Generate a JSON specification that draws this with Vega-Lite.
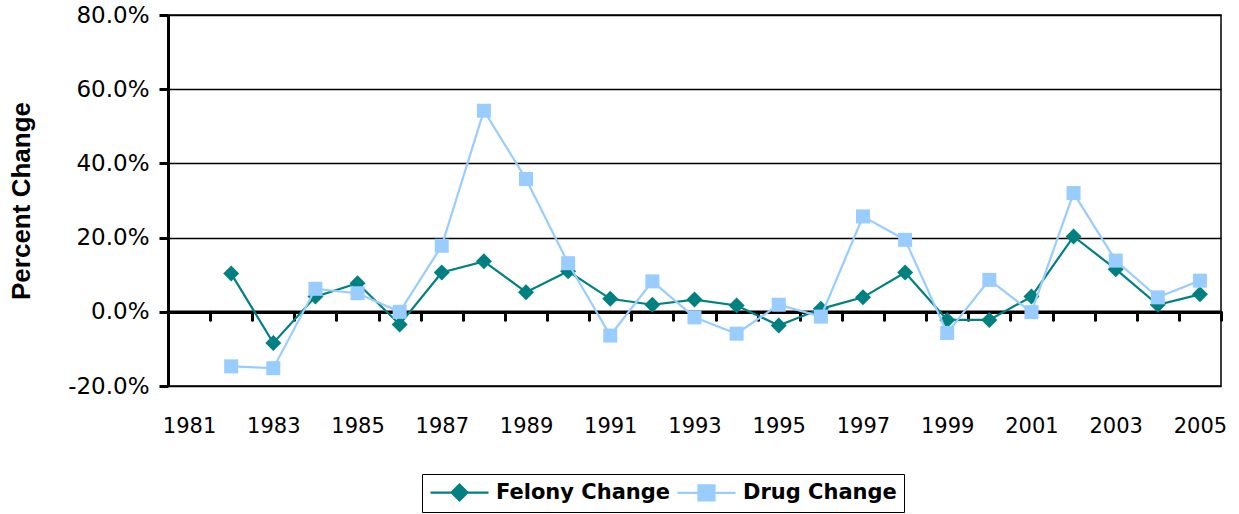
{
  "$schema": "https://vega.github.io/schema/vega-lite/v6.json",
  "width": 1053,
  "height": 371,
  "autosize": {"type": "none"},
  "padding": {"left": 168, "top": 15, "right": 18, "bottom": 128},
  "background": "white",
  "config": {
    "view": {"stroke": "black", "strokeWidth": 1.5}
  },
  "data": {
    "values": [
      {"year": 1982, "series": "Felony Change", "value": 10.3},
      {"year": 1983, "series": "Felony Change", "value": -8.4},
      {"year": 1984, "series": "Felony Change", "value": 4.1},
      {"year": 1985, "series": "Felony Change", "value": 7.7},
      {"year": 1986, "series": "Felony Change", "value": -3.4},
      {"year": 1987, "series": "Felony Change", "value": 10.6},
      {"year": 1988, "series": "Felony Change", "value": 13.6},
      {"year": 1989, "series": "Felony Change", "value": 5.3},
      {"year": 1990, "series": "Felony Change", "value": 10.9},
      {"year": 1991, "series": "Felony Change", "value": 3.5},
      {"year": 1992, "series": "Felony Change", "value": 1.9},
      {"year": 1993, "series": "Felony Change", "value": 3.3},
      {"year": 1994, "series": "Felony Change", "value": 1.7},
      {"year": 1995, "series": "Felony Change", "value": -3.7},
      {"year": 1996, "series": "Felony Change", "value": 0.8},
      {"year": 1997, "series": "Felony Change", "value": 3.9},
      {"year": 1998, "series": "Felony Change", "value": 10.6},
      {"year": 1999, "series": "Felony Change", "value": -2.2},
      {"year": 2000, "series": "Felony Change", "value": -2.2},
      {"year": 2001, "series": "Felony Change", "value": 4.1},
      {"year": 2002, "series": "Felony Change", "value": 20.3},
      {"year": 2003, "series": "Felony Change", "value": 11.5},
      {"year": 2004, "series": "Felony Change", "value": 1.9},
      {"year": 2005, "series": "Felony Change", "value": 4.7},
      {"year": 1982, "series": "Drug Change", "value": -14.7},
      {"year": 1983, "series": "Drug Change", "value": -15.2},
      {"year": 1984, "series": "Drug Change", "value": 6.2},
      {"year": 1985, "series": "Drug Change", "value": 5.0},
      {"year": 1986, "series": "Drug Change", "value": 0.0},
      {"year": 1987, "series": "Drug Change", "value": 17.8},
      {"year": 1988, "series": "Drug Change", "value": 54.2},
      {"year": 1989, "series": "Drug Change", "value": 35.8},
      {"year": 1990, "series": "Drug Change", "value": 13.1},
      {"year": 1991, "series": "Drug Change", "value": -6.4},
      {"year": 1992, "series": "Drug Change", "value": 8.2},
      {"year": 1993, "series": "Drug Change", "value": -1.5},
      {"year": 1994, "series": "Drug Change", "value": -5.9},
      {"year": 1995, "series": "Drug Change", "value": 1.9},
      {"year": 1996, "series": "Drug Change", "value": -1.3},
      {"year": 1997, "series": "Drug Change", "value": 25.7},
      {"year": 1998, "series": "Drug Change", "value": 19.4},
      {"year": 1999, "series": "Drug Change", "value": -5.7},
      {"year": 2000, "series": "Drug Change", "value": 8.6},
      {"year": 2001, "series": "Drug Change", "value": -0.1},
      {"year": 2002, "series": "Drug Change", "value": 32.0},
      {"year": 2003, "series": "Drug Change", "value": 13.8},
      {"year": 2004, "series": "Drug Change", "value": 3.9},
      {"year": 2005, "series": "Drug Change", "value": 8.4}
    ]
  },
  "encoding": {
    "y": {
      "field": "value",
      "type": "quantitative",
      "scale": {"domain": [-20, 80], "nice": false, "zero": false},
      "axis": {
        "title": "Percent Change",
        "values": [-20, 0, 20, 40, 60, 80],
        "labelExpr": "(datum.value < 0 ? '-' : '') + format(abs(datum.value), '.1f') + '%'",
        "grid": true,
        "gridColor": "black",
        "gridWidth": 1.5,
        "gridOpacity": 1,
        "domainColor": "black",
        "domainWidth": 3,
        "tickColor": "black",
        "tickWidth": 3,
        "tickSize": 9,
        "labelFont": "DejaVu Sans",
        "labelFontSize": 23,
        "labelColor": "black",
        "labelPadding": 10,
        "titleFont": "Liberation Sans",
        "titleFontWeight": "bold",
        "titleFontSize": 26,
        "titleColor": "black",
        "titlePadding": 33
      }
    }
  },
  "layer": [
    {
      "transform": [{"filter": "datum.series === 'Felony Change'"}],
      "mark": {"type": "line", "color": "#008080", "strokeWidth": 2.2},
      "encoding": {
        "x": {
          "field": "year",
          "type": "quantitative",
          "scale": {"domain": [1980.5, 2005.5], "nice": false, "zero": false},
          "axis": {
            "orient": "bottom",
            "offset": -74.2,
            "title": null,
            "labels": false,
            "grid": false,
            "values": [1981.5, 1982.5, 1983.5, 1984.5, 1985.5, 1986.5, 1987.5, 1988.5, 1989.5, 1990.5, 1991.5, 1992.5, 1993.5, 1994.5, 1995.5, 1996.5, 1997.5, 1998.5, 1999.5, 2000.5, 2001.5, 2002.5, 2003.5, 2004.5, 2005.5],
            "domainColor": "black",
            "domainWidth": 3.5,
            "tickColor": "black",
            "tickWidth": 3,
            "tickSize": 8,
            "tickCap": "round"
          }
        }
      }
    },
    {
      "transform": [{"filter": "datum.series === 'Felony Change'"}],
      "mark": {"type": "point", "shape": "diamond", "filled": true, "color": "#008080", "size": 256, "opacity": 1},
      "encoding": {
        "x": {
          "field": "year",
          "type": "quantitative",
          "scale": {"domain": [1980.5, 2005.5], "nice": false, "zero": false},
          "axis": {
            "orient": "bottom",
            "title": null,
            "grid": false,
            "ticks": false,
            "domain": false,
            "values": [1981, 1983, 1985, 1987, 1989, 1991, 1993, 1995, 1997, 1999, 2001, 2003, 2005],
            "format": "d",
            "labelFlush": false,
            "labelOverlap": false,
            "labelFont": "DejaVu Sans",
            "labelFontSize": 21,
            "labelColor": "black",
            "labelPadding": 29
          }
        }
      }
    },
    {
      "transform": [{"filter": "datum.series === 'Drug Change'"}],
      "mark": {"type": "line", "color": "#99CCFF", "strokeWidth": 2.2},
      "encoding": {
        "x": {"field": "year", "type": "quantitative", "axis": null}
      }
    },
    {
      "transform": [{"filter": "datum.series === 'Drug Change'"}],
      "mark": {"type": "point", "shape": "square", "filled": true, "color": "#99CCFF", "size": 196, "opacity": 1},
      "encoding": {
        "x": {"field": "year", "type": "quantitative", "axis": null}
      }
    },
    {
      "transform": [{"filter": "false"}],
      "mark": {"type": "point", "filled": true, "strokeWidth": 2},
      "encoding": {
        "x": {"field": "year", "type": "quantitative", "axis": null},
        "fill": {
          "field": "series",
          "type": "nominal",
          "scale": {"domain": ["Felony Change", "Drug Change"], "range": ["#008080", "#99CCFF"]},
          "legend": {
            "title": null, "orient": "none", "legendX": 254, "legendY": 459, "direction": "horizontal",
            "symbolSize": 400, "symbolStrokeWidth": 2.2, "symbolOpacity": 1,
            "labelFont": "DejaVu Sans", "labelFontWeight": "bold", "labelFontSize": 21, "labelColor": "black", "labelLimit": 400,
            "labelOffset": 44, "columnPadding": 2, "padding": 7,
            "strokeColor": "black"
          }
        },
        "stroke": {
          "field": "series",
          "type": "nominal",
          "scale": {"domain": ["Felony Change", "Drug Change"], "range": ["#008080", "#99CCFF"]},
          "legend": {
            "title": null, "orient": "none", "legendX": 254, "legendY": 459, "direction": "horizontal",
            "symbolSize": 400, "symbolStrokeWidth": 2.2, "symbolOpacity": 1,
            "labelFont": "DejaVu Sans", "labelFontWeight": "bold", "labelFontSize": 21, "labelColor": "black", "labelLimit": 400,
            "labelOffset": 44, "columnPadding": 2, "padding": 7,
            "strokeColor": "black"
          }
        },
        "shape": {
          "field": "series",
          "type": "nominal",
          "scale": {"domain": ["Felony Change", "Drug Change"], "range": ["M-1,0H4.8M1.9,-0.8L2.7,0L1.9,0.8L1.1,0Z", "M-1,0H4.8M1.1,-0.75H2.7V0.75H1.1Z"]},
          "legend": {
            "title": null, "orient": "none", "legendX": 254, "legendY": 459, "direction": "horizontal",
            "symbolSize": 400, "symbolStrokeWidth": 2.2, "symbolOpacity": 1,
            "labelFont": "DejaVu Sans", "labelFontWeight": "bold", "labelFontSize": 21, "labelColor": "black", "labelLimit": 400,
            "labelOffset": 44, "columnPadding": 2, "padding": 7,
            "strokeColor": "black"
          }
        }
      }
    }
  ],
  "resolve": {"axis": {"x": "independent"}}
}
